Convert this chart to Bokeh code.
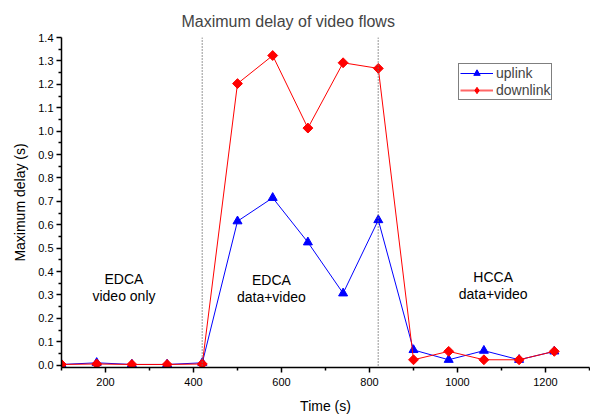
from bokeh.plotting import figure
from bokeh.models import Span, Label, Legend, LegendItem, Range1d, FixedTicker, CustomJSTickFormatter
from bokeh.embed import file_html
from bokeh.resources import INLINE

time_s = [100, 180, 260, 340, 420, 500, 580, 660, 740, 820, 900, 980, 1060, 1140, 1220]
uplink = [0.003, 0.01, 0.003, 0.003, 0.01, 0.615, 0.715, 0.525, 0.307, 0.62, 0.065, 0.023, 0.062, 0.023, 0.059]
downlink = [0.003, 0.005, 0.003, 0.003, 0.005, 1.203, 1.323, 1.013, 1.292, 1.268, 0.023, 0.059, 0.023, 0.023, 0.059]
phase_bounds = [420, 820]
phase_heads = ["EDCA", "EDCA", "HCCA"]
phase_subs = ["video only", "data+video", "data+video"]
phase_x = [242, 577, 1081]
phase_head_y = [0.370, 0.363, 0.377]
phase_sub_y = [0.297, 0.290, 0.304]
x_ticks = [200, 400, 600, 800, 1000, 1200]
x_minor = [100, 300, 500, 700, 900, 1100, 1300]
y_ticks = [round(i * 0.1, 1) for i in range(15)]
y_minor = [round(0.05 + i * 0.1, 2) for i in range(14)]

FONT = "Liberation Sans"
NAN = [float("nan")]

p = figure(width=590, height=416, output_backend="svg", toolbar_location=None,
           x_range=Range1d(100, 1300), y_range=Range1d(-0.01, 1.4),
           min_border_left=61, min_border_right=1, min_border_top=37, min_border_bottom=45)

p.title.text = "Maximum delay of video flows"
p.title.text_font = FONT
p.title.text_font_size = "16px"
p.title.text_font_style = "normal"
p.title.align = "left"
p.title.offset = 120
p.title.standoff = 16

p.outline_line_color = None
p.grid.visible = False
p.background_fill_color = "white"
p.border_fill_color = "white"

for ax in (p.xaxis[0], p.yaxis[0]):
    ax.axis_line_color = "black"
    ax.axis_line_width = 1.5
    ax.major_tick_line_color = "black"
    ax.minor_tick_line_color = "black"
    ax.major_tick_line_width = 1.5
    ax.minor_tick_line_width = 1.5
    ax.major_tick_out = 5
    ax.major_tick_in = 0
    ax.minor_tick_out = 3
    ax.minor_tick_in = 0
    ax.major_label_text_font = FONT
    ax.major_label_text_font_size = "11px"
    ax.major_label_text_color = "black"
    ax.axis_label_text_font = FONT
    ax.axis_label_text_font_size = "14px"
    ax.axis_label_text_font_style = "normal"
    ax.axis_label_text_color = "black"

p.xaxis.ticker = FixedTicker(ticks=x_ticks, minor_ticks=x_minor)
p.yaxis.ticker = FixedTicker(ticks=y_ticks, minor_ticks=y_minor)
p.yaxis.formatter = CustomJSTickFormatter(code="return tick.toFixed(1);")
p.xaxis.axis_label = "Time (s)"
p.yaxis.axis_label = "Maximum delay (s)"
p.xaxis.major_label_standoff = 5
p.yaxis.major_label_standoff = 3
p.xaxis.axis_label_standoff = 9
p.yaxis.axis_label_standoff = 7

for xb in phase_bounds:
    p.add_layout(Span(location=xb, dimension="height", line_color="#707070",
                      line_dash="1 2", line_width=1.5))

for head, sub, xc, hy, sy in zip(phase_heads, phase_subs, phase_x, phase_head_y, phase_sub_y):
    p.add_layout(Label(x=xc, y=hy, text=head, text_align="center", text_baseline="middle",
                       text_font=FONT, text_font_size="14px", text_color="black"))
    p.add_layout(Label(x=xc, y=sy, text=sub, text_align="center", text_baseline="middle",
                       text_font=FONT, text_font_size="14px", text_color="black"))

p.line(time_s, uplink, line_color="#0000ff", line_width=1)
p.scatter(time_s, uplink, marker="triangle", size=9, fill_color="#0000ff", line_color="#0000ff")
p.line(time_s, downlink, line_color="#ff0000", line_width=1)
p.scatter(time_s, downlink, marker="square", angle=0.7854, size=7, fill_color="#ff0000", line_color="#ff0000")

# legend-only renderers (no visible data)
lg_up_line = p.line(x=NAN, y=NAN, line_color="#0000ff", line_width=1)
lg_up_mark = p.scatter(x=NAN, y=NAN, marker="triangle", size=8, fill_color="#0000ff", line_color="#0000ff")
lg_dn_line = p.line(x=NAN, y=NAN, line_color="#ff6666", line_width=2)
lg_dn_mark = p.scatter(x=NAN, y=NAN, marker="diamond", size=9, fill_color="#ff0000", line_color="#ff0000")

legend = Legend(items=[LegendItem(label="uplink", renderers=[lg_up_line, lg_up_mark]),
                       LegendItem(label="downlink", renderers=[lg_dn_line, lg_dn_mark])],
                location=(397, 267), border_line_color="black", border_line_width=1,
                label_text_font=FONT, label_text_font_size="14px",
                glyph_width=33, glyph_height=16, label_standoff=3, spacing=1,
                padding=1, margin=0, label_height=16)
p.add_layout(legend, "center")

open("out.html", "w").write(file_html(p, INLINE))
